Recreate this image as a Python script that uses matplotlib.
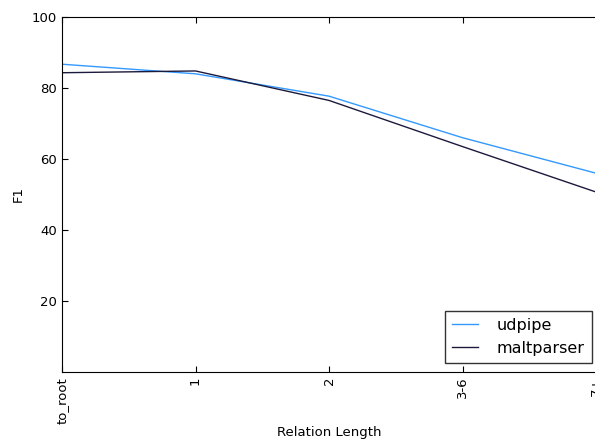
import numpy as np
import matplotlib
matplotlib.use('Agg')
import matplotlib.pyplot as plt

# Data
categories = ['to_root', '1', '2', '3-6', '7+']
udpipe = [86.7, 84.0, 77.7, 66.0, 56.0]
maltparser = [84.3, 84.8, 76.5, 63.5, 50.7]

x = np.arange(len(categories))

fig = plt.figure(figsize=(5.95, 4.45), dpi=100)
ax = fig.add_axes([62 / 595, 1 - 372 / 445, (596 - 62) / 595, (372 - 17) / 445])

ax.plot(x, udpipe, color='#3399ff', linewidth=1.0, label='udpipe')
ax.plot(x, maltparser, color='#1c1a3c', linewidth=1.0, label='maltparser')

ax.set_xlim(0, len(categories) - 1)
ax.set_ylim(0, 100)
ax.set_yticks([20, 40, 60, 80, 100])
ax.set_xticks(x)
ax.set_xticklabels(categories, rotation=90)
ax.tick_params(direction='in', length=4, labelsize=9.5, top=True, right=False)
ax.tick_params(axis='x', pad=3.5)

ax.set_xlabel('Relation Length', fontsize=9.5, labelpad=2)
ax.set_ylabel('F1', fontsize=9.5, labelpad=5)

leg = ax.legend(loc='lower right', fontsize=11.5, fancybox=False,
                handlelength=1.6, handletextpad=1.2, borderpad=0.45,
                bbox_to_anchor=(592 / 595, 1 - 363 / 445),
                bbox_transform=fig.transFigure, borderaxespad=0)
leg.get_frame().set_edgecolor('black')

fig.savefig('out.png', dpi=100)
